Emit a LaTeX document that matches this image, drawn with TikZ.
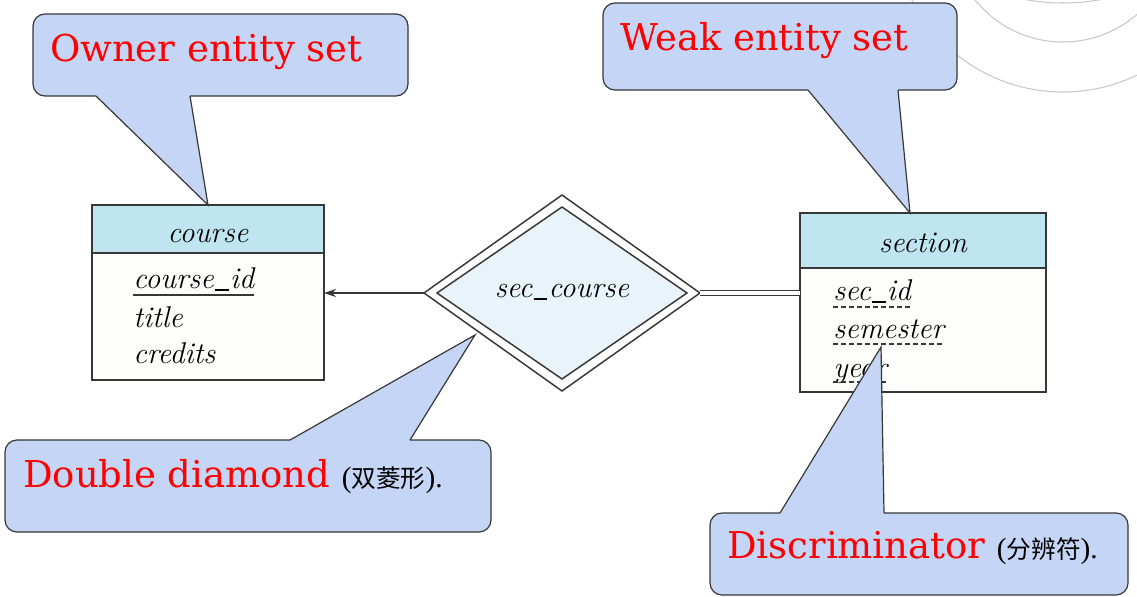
\documentclass[tikz,border=0pt]{standalone}
\usepackage{fontspec}
\usetikzlibrary{shapes.geometric,arrows.meta,calc}
\newfontfamily\dvserif{DejaVu Serif}
\newfontfamily\libserif{Liberation Serif}
\newfontfamily\cjkfont{Noto Sans CJK SC}
\definecolor{callfill}{RGB}{197,213,246}
\definecolor{hdrfill}{RGB}{190,229,240}
\definecolor{bodyfill}{RGB}{253,253,251}
\definecolor{dmdfill}{RGB}{232,244,250}
\definecolor{edge}{RGB}{55,55,55}
\definecolor{arcgray}{RGB}{200,200,200}
\newcommand\cjknote[1]{{\color{black}\fontsize{22}{24}\selectfont\libserif(\fontsize{18.5}{24}\selectfont\cjkfont #1\fontsize{22}{24}\selectfont\libserif).}}
\newcommand\usc{\kern0.04em\rule[-0.1em]{0.46em}{0.06em}\kern0.04em}
\tikzset{
  callbox/.style={fill=callfill, draw=edge, line width=0.9pt, rounded corners=9pt},
  callfillonly/.style={fill=callfill},
  callline/.style={draw=edge, line width=0.9pt, line join=miter},
  calltext/.style={inner sep=0pt, text=red, font=\dvserif\fontsize{27.7}{32}\selectfont},
  hdr/.style={draw=edge, fill=hdrfill, line width=1.1pt, inner sep=0pt, outer sep=0pt},
  bodybox/.style={draw=edge, fill=bodyfill, line width=1.1pt, inner sep=0pt, outer sep=0pt},
  attr/.style={inner sep=0pt, font=\fontsize{22.5}{26}\selectfont\itshape},
  outerdmd/.style={diamond, draw=edge, fill=white, line width=1.1pt, inner sep=0pt, outer sep=0pt, minimum width=207pt, minimum height=147pt},
  innerdmd/.style={diamond, draw=edge, fill=dmdfill, line width=1.1pt, inner sep=0pt, outer sep=0pt, minimum width=187.5pt, minimum height=129pt},
  conn/.style={draw=edge, line width=1pt},
  dashline/.style={draw=edge, line width=0.9pt, dash pattern=on 3.75pt off 2.25pt},
}
\begin{document}
\begin{tikzpicture}[x=0.75pt, y=-0.75pt]
\useasboundingbox (0,0) rectangle (1137,596);
\fill[white] (0,0) rectangle (1137,596);
% decorative arcs
\begin{scope}
\clip (0,0) rectangle (1137,596);
\draw[arcgray, line width=0.8pt] (1063,-78) circle[radius=127.5pt];
\draw[arcgray, line width=0.8pt] (1063,-71) circle[radius=84.75pt];
\draw[arcgray, line width=0.8pt] (1063,-203) circle[radius=154.5pt];
\end{scope}

% course entity
\node[hdr, minimum width=174pt, minimum height=36pt, anchor=north west] (courseH) at (92,205) {};
\node[bodybox, minimum width=174pt, minimum height=95.25pt, anchor=north west] (course) at (92,253) {};
\node[attr, anchor=base] (courseT) at (208,242) {course};
\node[attr, anchor=base west] (cid) at (133,288) {course\usc id};
\node[attr, anchor=base west] (ctitle) at (133,327) {title};
\node[attr, anchor=base west] (ccred) at (133,363) {credits};
\draw[draw=edge, line width=1.1pt] ($(cid.base west)+(0,7)$) -- ($(cid.base east)+(0,7)$);

% section entity
\node[hdr, minimum width=184.5pt, minimum height=41.25pt, anchor=north west] (sectionH) at (800,213) {};
\node[bodybox, minimum width=184.5pt, minimum height=93pt, anchor=north west] (section) at (800,268) {};
\node[attr, anchor=base] (sectionT) at (923,252) {section};
\node[attr, anchor=base west] (sid) at (833,300) {sec\usc id};
\node[attr, anchor=base west] (ssem) at (833,338) {semester};
\node[attr, anchor=base west] (syear) at (833,377) {year};
\draw[dashline] ($(sid.base west)+(0,7)$) -- ($(sid.base east)+(0,7)$);
\draw[dashline] ($(ssem.base west)+(0,6)$) -- ($(ssem.base east)+(0,6)$);
\draw[dashline] ($(syear.base west)+(0,5)$) -- ($(syear.base east)+(0,5)$);

% relationship
\node[outerdmd] (secco) at (562,293) {};
\node[innerdmd] (secci) at (562,293) {};
\node[attr, anchor=base] (seccT) at (562,297) {sec\usc course};

% connectors
\draw[conn, -{Stealth[length=9pt,width=6pt]}] (secco.west) -- (secco.west -| course.east);
\draw[draw=edge, line width=0.9pt, double=white, double distance=3.3pt] (secco.east) -- (secco.east -| section.west);

% callout: owner entity set
\path[callbox] (33,14) rectangle (408,96);
\fill[callfillonly] (96,96) -- (208,205) -- (190,96) -- (190,91) -- (96,91) -- cycle;
\draw[callline] (96,96) -- (208,205) -- (190,96);
\node[calltext, anchor=base west] (owner) at (50,61) {Owner entity set};

% callout: weak entity set
\path[callbox] (603,3) rectangle (957,90);
\fill[callfillonly] (808,90) -- (910,213) -- (898,90) -- (898,85) -- (808,85) -- cycle;
\draw[callline] (808,90) -- (910,213) -- (898,90);
\node[calltext, anchor=base west] (weak) at (620,50) {Weak entity set};

% callout: double diamond
\path[callbox] (5,440) rectangle (491,532);
\fill[callfillonly] (290,440) -- (475,335) -- (410,440) -- (410,445) -- (290,445) -- cycle;
\draw[callline] (290,440) -- (475,335) -- (410,440);
\node[calltext, anchor=base west] (dd) at (23,487) {Double diamond \cjknote{双菱形}};

% callout: discriminator
\path[callbox] (710,513) rectangle (1128,595);
\fill[callfillonly] (780,513) -- (881,347) -- (884,513) -- (884,518) -- (780,518) -- cycle;
\draw[callline] (780,513) -- (881,347) -- (884,513);
\node[calltext, anchor=base west] (disc) at (727,558) {Discriminator \cjknote{分辨符}};
\end{tikzpicture}
\end{document}
